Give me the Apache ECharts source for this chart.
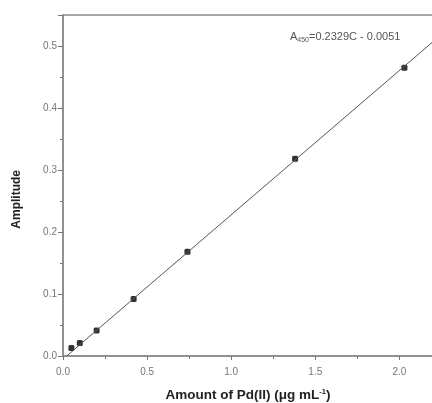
<!DOCTYPE html>
<html>
<head>
<meta charset="utf-8">
<script src="https://cdn.jsdelivr.net/npm/echarts@6/dist/echarts.min.js"></script>
<style>
  html, body { margin: 0; padding: 0; background: #fff; }
  #main { width: 432px; height: 403px; }
</style>
</head>
<body>
<div id="main"></div>
<script>
// measured calibration points
const concentration = [0.05, 0.1, 0.2, 0.42, 0.74, 1.38, 2.03];
const amplitude = [0.013, 0.021, 0.041, 0.092, 0.168, 0.318, 0.465];
// ends of the drawn fit line
const fitX = [0.022, 2.2];
const fitY = [0, 0.507];
const xTicks = ['0.0', '0.5', '1.0', '1.5', '2.0'];
const yTicks = ['0.0', '0.1', '0.2', '0.3', '0.4', '0.5'];

const chart = echarts.init(document.getElementById('main'));
const font = 'Liberation Sans, Arial, sans-serif';

const option = {
  animation: false,
  backgroundColor: '#fff',
  grid: {
    left: 63, top: 15, right: -1, bottom: 47,
    outerBoundsMode: 'none', containLabel: false,
    show: true, borderColor: '#8a8a8a', borderWidth: 1.5
  },
  xAxis: {
    type: 'value', min: 0, max: 2.2, interval: 0.5,
    name: 'Amount of Pd(II) (μg mL{sup|-1})',
    nameLocation: 'middle', nameGap: 32,
    nameTextStyle: {
      fontFamily: font, fontSize: 13.5, fontWeight: 'bold', color: '#222',
      rich: { sup: { fontSize: 7.5, verticalAlign: 'top', padding: [0, 0, 7, 0], color: '#222', fontWeight: 'bold' } }
    },
    axisLine: { lineStyle: { color: '#8a8a8a', width: 1.5 } },
    axisTick: { inside: false, length: 4, lineStyle: { color: '#777' } },
    minorTick: { show: true, splitNumber: 2, length: 3, lineStyle: { color: '#777' } },
    splitLine: { show: false },
    axisLabel: {
      fontFamily: font, fontSize: 10, color: '#777', margin: 11, showMaxLabel: false,
      formatter: v => xTicks[Math.round(v / 0.5)] || ''
    }
  },
  yAxis: {
    type: 'value', min: 0, max: 0.55, interval: 0.1,
    axisLine: { lineStyle: { color: '#8a8a8a', width: 1.5 } },
    axisTick: { inside: false, length: 5, lineStyle: { color: '#777' } },
    minorTick: { show: true, splitNumber: 2, length: 3, lineStyle: { color: '#777' } },
    splitLine: { show: false },
    axisLabel: {
      fontFamily: font, fontSize: 10, color: '#777', margin: 6, showMaxLabel: false,
      formatter: v => yTicks[Math.round(v / 0.1)] || ''
    }
  },
  graphic: [
    {
      type: 'text', left: 11, top: 170, rotation: Math.PI / 2,
      style: { text: 'Amplitude', font: 'bold 12px ' + font, fill: '#222' },
      originX: 0, originY: 0
    },
    {
      type: 'text', left: 290, top: 31,
      style: {
        text: 'A{sub|450}=0.2329C - 0.0051',
        fontFamily: font, fontSize: 11, fill: '#555',
        rich: { sub: { fontSize: 7, verticalAlign: 'bottom', padding: [7, 0, 0, 0], fill: '#555' } }
      }
    }
  ],
  series: [
    {
      type: 'line',
      data: fitX.map((x, i) => [x, fitY[i]]),
      showSymbol: false, silent: true,
      lineStyle: { color: '#555', width: 1 }
    },
    {
      type: 'scatter',
      data: concentration.map((x, i) => [x, amplitude[i]]),
      symbol: 'roundRect', symbolSize: 6,
      itemStyle: { color: '#000' }
    }
  ]
};

chart.setOption(option);
</script>
</body>
</html>
